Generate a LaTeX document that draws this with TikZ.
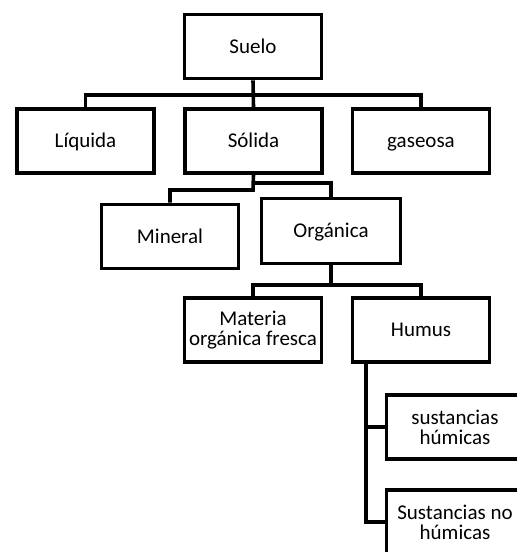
\documentclass[tikz,border=0pt]{standalone}
\usepackage{fontspec}
\setmainfont{Carlito}
\begin{document}
\begin{tikzpicture}[x=1pt,y=-1pt,
  box/.style={draw, line width=3.6pt, minimum width=137pt, minimum height=64pt, inner sep=0pt, align=center, font=\fontsize{21}{20}\selectfont},
  one/.style={text height=13.6pt, text depth=0pt},
  conn/.style={line width=3.6pt}]
\useasboundingbox (0,0) rectangle (517,552);
\clip (0,0) rectangle (517,552);
\node[box,one] (suelo) at (253,46.5) {Suelo};
\node[box,one] (liquida) at (85.5,141) {Líquida};
\node[box,one] (solida) at (253.5,141) {Sólida};
\node[box,one] (gaseosa) at (421,141) {gaseosa};
\node[box,one] (mineral) at (170,236.5) {Mineral};
\node[box,one, minimum width=139pt, minimum height=65pt] (organica) at (331,231) {Orgánica};
\node[box] (materia) at (253,330) {Materia\\orgánica fresca};
\node[box,one] (humus) at (421,330) {Humus};
\node[box] (sh) at (455,427) {sustancias\\húmicas};
\node[box] (snh) at (455,522) {Sustancias no\\húmicas};
\coordinate (b1) at (253,95);
\coordinate (b2l) at (253,190);
\coordinate (b2r) at (253,183);
\coordinate (b3) at (331,285);
\coordinate (t) at (366,0);
\draw[conn] (suelo.south) -- (solida.north);
\draw[conn] (liquida.north) |- (b1) -| (gaseosa.north);
\draw[conn] (solida.south) -- (b2l) -| (mineral.north);
\draw[conn] (b2r) -| (organica.north);
\draw[conn] (organica.south) -- (b3);
\draw[conn] (materia.north) |- (b3) -| (humus.north);
\draw[conn] (humus.south -| t) |- (snh.west);
\draw[conn] (sh.west -| t) -- (sh.west);
\end{tikzpicture}
\end{document}
